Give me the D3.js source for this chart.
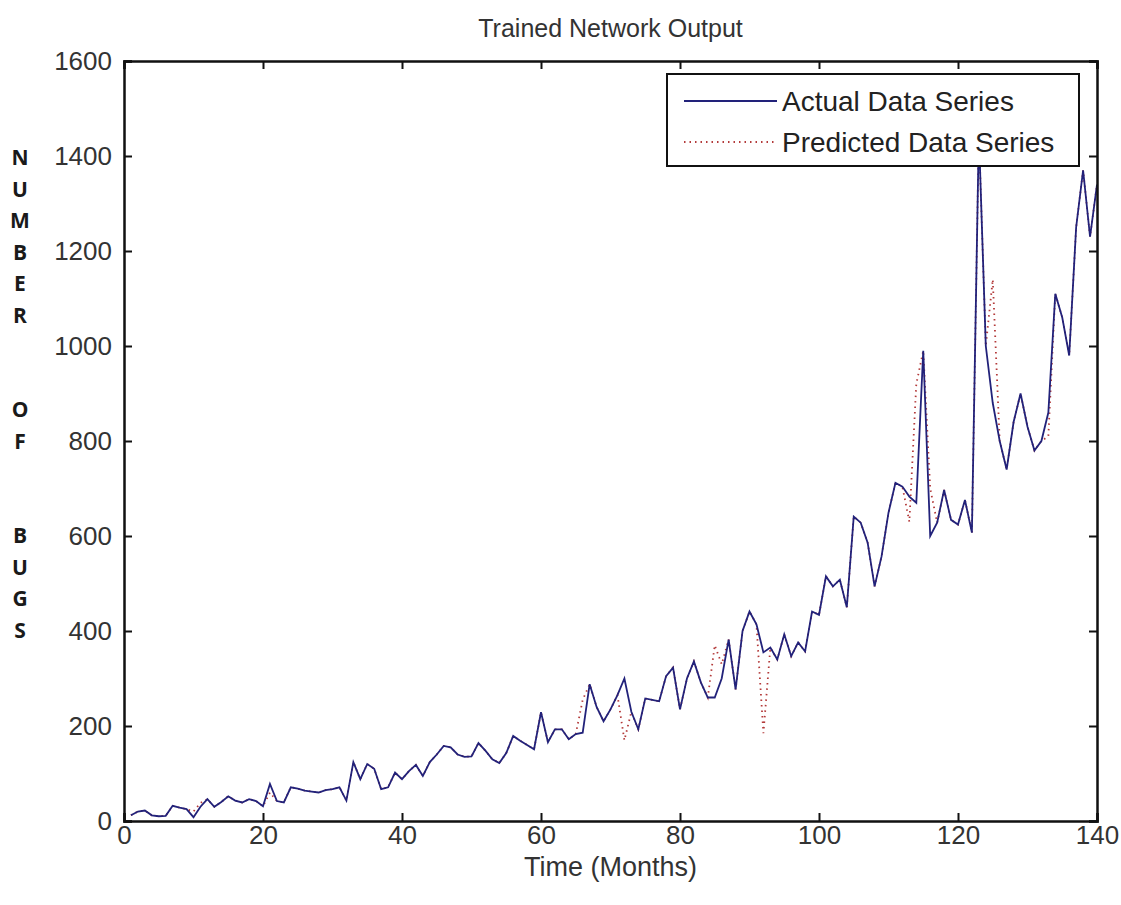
<!DOCTYPE html>
<html>
<head>
<meta charset="utf-8">
<script src="https://cdn.jsdelivr.net/npm/d3@7"></script>
<style>
  body { margin: 0; background: #fff; }
  text { font-family: "Liberation Sans", Arial, sans-serif; }
</style>
</head>
<body>
<svg id="chart" width="1121" height="905"></svg>
<script>
// months 1..140
var months = d3.range(1, 141);

var actual = [
  12, 20, 22, 12, 10, 11, 32, 28, 25, 8,
  30, 46, 30, 40, 52, 43, 39, 46, 42, 31,
  78, 42, 39, 71, 68, 64, 62, 60, 65, 67,
  71, 43, 124, 88, 120, 110, 67, 71, 102, 88,
  105, 118, 95, 124, 140, 158, 155, 140, 135, 136,
  164, 148, 130, 122, 143, 179, 169, 160, 151, 229,
  166, 193, 193, 172, 183, 186, 288, 240, 210, 235,
  265, 300, 230, 193, 258, 255, 252, 305, 323, 235,
  300, 336, 292, 260, 260, 300, 382, 277, 400, 441,
  414, 355, 365, 340, 393, 347, 376, 357, 441, 434,
  515, 494, 508, 450, 641, 628, 586, 494, 557, 649,
  712, 704, 683, 670, 990, 600, 628, 697, 634, 624,
  676, 607, 1450, 1000, 880, 800, 740, 840, 900, 830,
  780, 800, 860, 1110, 1060, 980, 1250, 1370, 1230, 1340
];

var predicted = [
  12, 20, 22, 12, 10, 11, 32, 28, 25, 20,
  38, 46, 30, 40, 52, 43, 39, 46, 42, 31,
  60, 42, 39, 71, 68, 64, 62, 60, 65, 67,
  71, 43, 124, 88, 120, 110, 67, 71, 102, 88,
  105, 118, 95, 124, 140, 158, 155, 140, 135, 136,
  164, 148, 130, 122, 143, 179, 169, 160, 151, 229,
  166, 193, 193, 172, 183, 255, 288, 240, 210, 235,
  265, 170, 230, 193, 258, 255, 252, 305, 323, 235,
  300, 336, 292, 260, 370, 330, 382, 277, 400, 441,
  414, 185, 365, 340, 393, 347, 376, 357, 441, 434,
  515, 494, 508, 450, 641, 628, 586, 494, 557, 649,
  712, 704, 630, 920, 990, 700, 628, 697, 634, 624,
  676, 607, 1450, 1000, 1140, 800, 740, 840, 900, 830,
  780, 800, 810, 1110, 1060, 980, 1250, 1370, 1230, 1340
];

var xTicks = [0, 20, 40, 60, 80, 100, 120, 140];
var yTicks = [0, 200, 400, 600, 800, 1000, 1200, 1400, 1600];
var yLabelLetters = ["N", "U", "M", "B", "E", "R", "", "", "O", "F", "", "", "B", "U", "G", "S"];
var seriesNames = ["Actual Data Series", "Predicted Data Series"];

var plotL = 124, plotR = 1097, plotT = 61, plotB = 821;

var svg = d3.select("#chart");

var x = d3.scaleLinear().domain([0, 140]).range([plotL, plotR]);
var y = d3.scaleLinear().domain([0, 1600]).range([plotB, plotT]);

var line = d3.line()
    .x(function(d) { return x(d.m); })
    .y(function(d) { return y(d.v); });

var actualData = months.map(function(m, i) { return {m: m, v: actual[i]}; });
var predData = months.map(function(m, i) { return {m: m, v: predicted[i]}; });

svg.append("clipPath").attr("id", "plotclip")
  .append("rect")
    .attr("x", plotL).attr("y", plotT)
    .attr("width", plotR - plotL).attr("height", plotB - plotT);

var plot = svg.append("g").attr("clip-path", "url(#plotclip)");

plot.append("path")
    .datum(predData)
    .attr("d", line)
    .attr("fill", "none")
    .attr("stroke", "#b33a3a")
    .attr("stroke-width", 1.8)
    .attr("stroke-dasharray", "1.5,4");

plot.append("path")
    .datum(actualData)
    .attr("d", line)
    .attr("fill", "none")
    .attr("stroke", "#22227a")
    .attr("stroke-width", 1.8);

// axes (matlab style box, ticks inward)
svg.append("g")
    .attr("transform", "translate(0," + plotB + ")")
    .call(d3.axisBottom(x).tickValues(xTicks).tickSize(-8).tickPadding(5))
    .call(styleAxis);

svg.append("g")
    .attr("transform", "translate(0," + plotT + ")")
    .call(d3.axisTop(x).tickValues(xTicks).tickSize(-8).tickFormat(""))
    .call(styleAxis);

svg.append("g")
    .attr("transform", "translate(" + plotL + ",0)")
    .call(d3.axisLeft(y).tickValues(yTicks).tickSize(-8).tickPadding(12).tickFormat(d3.format("d")))
    .call(styleAxis);

svg.append("g")
    .attr("transform", "translate(" + plotR + ",0)")
    .call(d3.axisRight(y).tickValues(yTicks).tickSize(-8).tickFormat(""))
    .call(styleAxis);

function styleAxis(g) {
  g.select(".domain").attr("stroke", "#111").attr("stroke-width", 2.5);
  g.selectAll(".tick line").attr("stroke", "#111").attr("stroke-width", 2);
  g.selectAll(".tick text")
    .attr("fill", "#333")
    .style("font-size", "26px")
    .style("font-family", "'Liberation Sans', Arial, sans-serif");
}

// title and x label
svg.append("text")
    .attr("x", (plotL + plotR) / 2)
    .attr("y", 37)
    .attr("text-anchor", "middle")
    .attr("fill", "#333")
    .style("font-size", "25px")
    .text("Trained Network Output");

svg.append("text")
    .attr("x", (plotL + plotR) / 2)
    .attr("y", 876)
    .attr("text-anchor", "middle")
    .attr("fill", "#333")
    .style("font-size", "27px")
    .text("Time (Months)");

// vertical stacked y label
svg.append("g").selectAll("text")
    .data(yLabelLetters)
    .enter().append("text")
    .attr("x", 20)
    .attr("y", function(d, i) { return 165 + i * 31.5; })
    .attr("text-anchor", "middle")
    .attr("fill", "#1a1a1a")
    .style("font-family", "'Open Sans', sans-serif")
    .style("font-weight", "bold")
    .style("font-size", "21px")
    .text(function(d) { return d; });

// legend
var legend = svg.append("g");
legend.append("rect")
    .attr("x", 667).attr("y", 74)
    .attr("width", 412).attr("height", 92)
    .attr("fill", "#fff")
    .attr("stroke", "#111")
    .attr("stroke-width", 2);

var rows = legend.selectAll("g.row")
    .data(seriesNames)
    .enter().append("g")
    .attr("class", "row")
    .attr("transform", function(d, i) { return "translate(0," + (101 + i * 41) + ")"; });

rows.append("line")
    .attr("x1", 684).attr("x2", 777)
    .attr("y1", 0).attr("y2", 0)
    .attr("stroke", function(d, i) { return i == 0 ? "#22227a" : "#b33a3a"; })
    .attr("stroke-width", 1.8)
    .attr("stroke-dasharray", function(d, i) { return i == 0 ? null : "1.5,4"; });

rows.append("text")
    .attr("x", 782)
    .attr("y", 10)
    .attr("fill", "#222")
    .style("font-size", "28px")
    .text(function(d) { return d; });
</script>
</body>
</html>
